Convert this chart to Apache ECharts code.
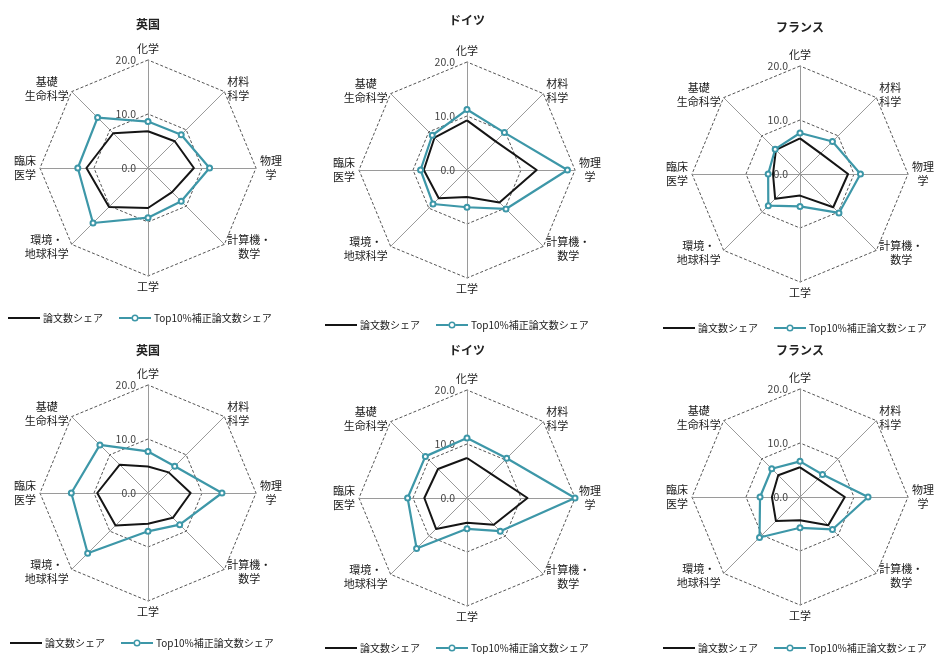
<!DOCTYPE html>
<html>
<head>
<meta charset="utf-8">
<script src="https://cdn.jsdelivr.net/npm/echarts@6/dist/echarts.min.js"></script>
<style>
html, body { margin: 0; padding: 0; background: #fff; }
#main { width: 942px; height: 654px; }
</style>
</head>
<body>
<div id="main"></div>
<script>
// indicators, counter-clockwise from the top (ECharts radar order)
const fields = ['化学', '基礎\n生命科学', '臨床\n医学', '環境・\n地球科学', '工学', '計算機・\n数学', '物理\n学', '材料\n科学']
const countries = ['英国', 'ドイツ', 'フランス', '英国', 'ドイツ', 'フランス']
const seriesNames = ['論文数シェア', 'Top10%補正論文数シェア']
const scaleMin = 0
const scaleMax = 20

// 論文数シェア (%)
const ukShareTop = [6.8, 9.1, 11.4, 10.2, 7.4, 6.3, 8.5, 7.0]
const deShareTop = [9.2, 8.5, 8.0, 7.4, 5.0, 8.5, 12.9, 7.5]
const frShareTop = [6.6, 6.3, 5.0, 6.5, 4.0, 8.7, 8.9, 5.4]
const ukShareBottom = [4.9, 7.4, 9.4, 8.5, 5.7, 6.5, 7.9, 5.4]
const deShareBottom = [7.4, 7.6, 7.9, 8.1, 4.6, 7.0, 11.2, 6.3]
const frShareBottom = [5.5, 5.7, 5.2, 6.3, 4.3, 7.4, 8.3, 4.7]

// Top10%補正論文数シェア (%)
const ukTopTop = [8.6, 13.2, 13.0, 14.4, 9.2, 8.7, 11.4, 8.7]
const deTopTop = [11.2, 9.1, 8.6, 8.9, 6.9, 10.2, 18.6, 9.8]
const frTopTop = [7.6, 6.5, 5.9, 8.3, 6.0, 10.2, 11.2, 8.5]
const ukTopBottom = [7.7, 12.6, 14.2, 15.8, 7.1, 8.3, 13.7, 7.0]
const deTopBottom = [11.1, 10.9, 11.0, 13.2, 5.7, 8.7, 20.0, 10.4]
const frTopBottom = [6.6, 7.4, 7.4, 10.6, 5.7, 8.5, 12.6, 5.9]

const shareData = [ukShareTop, deShareTop, frShareTop, ukShareBottom, deShareBottom, frShareBottom]
const top10Data = [ukTopTop, deTopTop, frTopTop, ukTopBottom, deTopBottom, frTopBottom]

// layout
const centers = [[148, 168], [467, 170], [800, 174], [148, 493], [467, 498], [800, 497]]
const titleTops = [18, 14, 21, 344, 344, 344]
const legendPos = [[8, 313], [325, 320], [663, 323], [10, 638], [325, 643], [663, 643]]

const font = '"Noto Sans CJK JP", "Noto Sans CJK SC", sans-serif'
const black = '#151515'
const teal = '#3d97a8'

const blackIcon = 'path://M0,3 H32 V5 H0 Z'
const tealIcon = 'path://M0,3 H12.5 V5 H0 Z M19.5,3 H32 V5 H19.5 Z ' +
  'M12.5,4 A3.5,3.5 0 0,1 19.5,4 A3.5,3.5 0 0,1 12.5,4 Z ' +
  'M14,4 A2,2 0 0,0 18,4 A2,2 0 0,0 14,4 Z'

const nameFontSize = 11

const chart = echarts.init(document.getElementById('main'))

const option = {
  backgroundColor: '#fff',
  animation: false,
  title: countries.map((t, i) => ({
    text: t,
    left: centers[i][0],
    top: titleTops[i],
    textAlign: 'center',
    padding: 0,
    textStyle: { fontSize: 12, fontWeight: 'bold', color: '#222', fontFamily: font }
  })),
  legend: legendPos.map(p => ({
    left: p[0],
    top: p[1],
    padding: 0,
    itemWidth: 32,
    itemHeight: 7,
    itemGap: 16,
    itemStyle: { borderWidth: 0 },
    selectedMode: false,
    data: [
      { name: seriesNames[0], icon: blackIcon },
      { name: seriesNames[1], icon: tealIcon }
    ],
    textStyle: { fontSize: 10, color: '#222', fontFamily: font, padding: [0, 0, 0, -2] }
  })),
  radar: centers.map(c => ({
    center: c,
    radius: 108,
    startAngle: 90,
    splitNumber: 2,
    shape: 'polygon',
    nameGap: 4,
    indicator: fields.map((f, j) => {
      const ind = { name: f, min: scaleMin, max: scaleMax }
      if (j === 0) ind.axisLabel = { show: true }
      return ind
    }),
    axisName: {
      color: '#1a1a1a',
      fontSize: nameFontSize,
      fontFamily: font,
      formatter: function(name) {
        const lines = name.split('\n')
        const w = Math.max.apply(null, lines.map(l => l.length))
        return lines.map(l => '{w' + w + '|' + l + '}').join('\n')
      },
      rich: {
        w2: { width: nameFontSize * 2, align: 'center', fontSize: nameFontSize, lineHeight: 14, color: '#1a1a1a', fontFamily: font },
        w4: { width: nameFontSize * 4, align: 'center', fontSize: nameFontSize, lineHeight: 14, color: '#1a1a1a', fontFamily: font }
      }
    },
    axisLine: { lineStyle: { color: '#9a9a9a', width: 1 } },
    axisTick: { show: false },
    splitLine: { lineStyle: { color: '#555', width: 1, type: [3, 2] } },
    splitArea: { show: false },
    axisLabel: {
      show: false,
      fontSize: 10.5,
      color: '#444',
      fontFamily: font,
      margin: 12,
      formatter: v => Number(v).toFixed(1)
    }
  })),
  series: [
    ...shareData.map((d, i) => ({
      type: 'radar',
      name: seriesNames[0],
      radarIndex: i,
      symbol: 'none',
      color: black,
      lineStyle: { color: black, width: 2 },
      itemStyle: { color: black },
      z: 3,
      data: [{ value: d, name: seriesNames[0] }]
    })),
    ...top10Data.map((d, i) => ({
      type: 'radar',
      name: seriesNames[1],
      radarIndex: i,
      symbol: 'emptyCircle',
      symbolSize: 5,
      color: teal,
      lineStyle: { color: teal, width: 2.2 },
      itemStyle: { color: teal, borderWidth: 1.2 },
      z: 4,
      data: [{ value: d, name: seriesNames[1] }]
    }))
  ]
}

chart.setOption(option)
window.addEventListener('resize', function() {
  chart.resize()
})
</script>
</body>
</html>
